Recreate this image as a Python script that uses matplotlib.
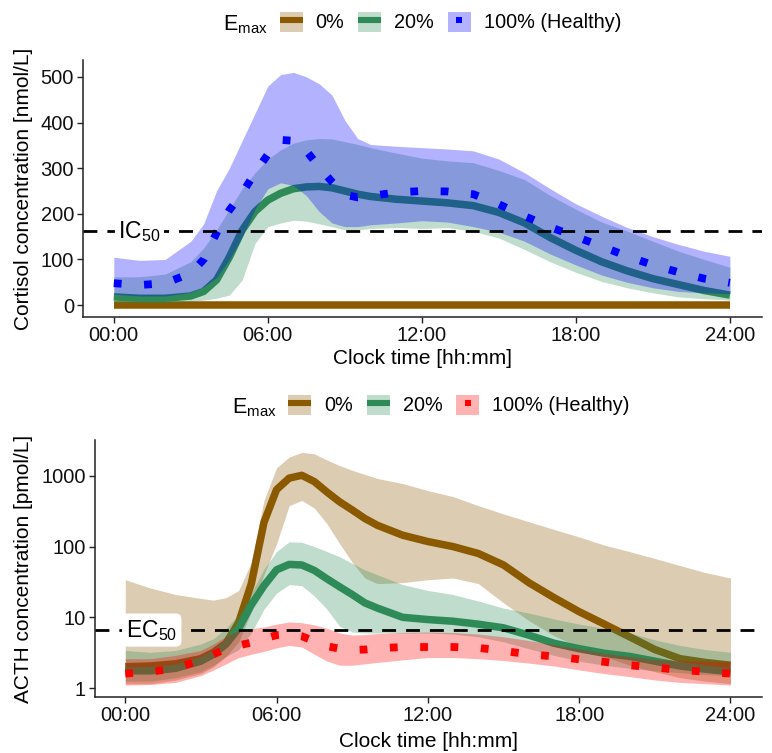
import matplotlib
matplotlib.use("Agg")
import matplotlib.pyplot as plt
from matplotlib.patches import Patch
from matplotlib.lines import Line2D
from matplotlib.legend_handler import HandlerTuple

plt.rcParams['font.family'] = ['Liberation Sans', 'DejaVu Sans']
plt.rcParams['mathtext.fontset'] = 'custom'
plt.rcParams['mathtext.rm'] = 'Liberation Sans'
plt.rcParams['mathtext.it'] = 'Liberation Sans:italic'
plt.rcParams['mathtext.bf'] = 'Liberation Sans:bold'

# ---------------- data ----------------
hours = [0, 1, 2, 3, 3.5, 4, 4.5, 5, 5.5, 6, 6.5, 7, 7.5, 8, 8.5, 9, 9.5, 10,
         11, 12, 13, 14, 15, 16, 17, 18, 19, 20, 21, 22, 23, 24]

xtick_pos = [0, 6, 12, 18, 24]
xtick_labels = ["00:00", "06:00", "12:00", "18:00", "24:00"]
group_labels = ["0%", "20%", "100% (Healthy)"]

# Cortisol [nmol/L]
cort_0_med = [0] * 32
cort_0_lo = [0] * 32
cort_0_hi = [0] * 32

cort_20_med = [18, 15, 15, 20, 30, 55, 105, 164, 205, 230, 245, 255, 259, 260, 257, 250,
               243, 238, 232, 228, 224, 218, 203, 180, 148, 120, 95, 75, 58, 45, 32, 22]
cort_20_lo = [5, 5, 5, 8, 11, 15, 22, 55, 135, 172, 180, 186, 184, 178, 172, 165,
              165, 168, 170, 168, 170, 162, 147, 122, 95, 72, 52, 38, 27, 18, 14, 11]
cort_20_hi = [62, 62, 68, 95, 125, 164, 210, 255, 290, 320, 340, 355, 362, 365, 364, 358,
              352, 345, 333, 322, 316, 312, 295, 275, 240, 210, 182, 162, 140, 118, 100, 83]

cort_100_med = [48, 44, 48, 70, 100, 158, 208, 245, 290, 330, 362, 360, 338, 302, 270, 242,
                236, 239, 247, 250, 249, 243, 221, 195, 171, 150, 129, 107, 88, 72, 58, 49]
cort_100_lo = [24, 20, 20, 28, 40, 60, 100, 150, 210, 255, 268, 262, 240, 205, 180, 172,
               172, 176, 180, 185, 182, 172, 160, 140, 112, 88, 66, 50, 38, 30, 27, 25]
cort_100_hi = [105, 98, 100, 140, 178, 250, 300, 360, 420, 480, 505, 510, 500, 485, 460, 405,
               365, 352, 348, 345, 342, 338, 320, 290, 255, 222, 195, 170, 150, 133, 118, 107]

IC50 = 162

# ACTH [pmol/L]
acth_0_med = [2.0, 2.05, 2.2, 2.6, 3.2, 4.3, 8.5, 30, 220, 640, 930, 1020, 830, 590, 430, 330,
              250, 200, 145, 118, 100, 80, 55, 31, 19, 12, 8.0, 5.3, 3.5, 2.6, 2.3, 2.1]
acth_0_lo = [1.15, 1.15, 1.3, 1.6, 2.0, 2.8, 4.5, 12, 40, 110, 380, 450, 350, 210, 110, 60,
             36, 30, 31, 34, 36, 30, 16, 9, 5.5, 3.8, 2.8, 2.1, 1.7, 1.4, 1.25, 1.15]
acth_0_hi = [34, 26, 21, 18.5, 17.5, 19, 24, 60, 450, 1300, 1850, 2150, 2050, 1680, 1400, 1200,
             1050, 920, 780, 620, 510, 380, 290, 225, 175, 137, 105, 85, 68, 54, 43, 36]

acth_20_med = [1.75, 1.75, 1.9, 2.4, 3.0, 4.2, 7, 15, 28, 47, 56, 55, 46, 35, 27, 21,
               16, 13.5, 10, 9.3, 8.8, 8, 7.1, 5.6, 4.3, 3.6, 3.1, 2.8, 2.4, 2.05, 1.85, 1.7]
acth_20_lo = [1.25, 1.25, 1.4, 1.7, 2.1, 2.8, 3.5, 6, 13, 22, 29, 28, 20, 13, 7.5, 6.2,
              6, 6, 6, 6, 5.8, 5.3, 4.5, 3.6, 2.9, 2.4, 2.1, 1.9, 1.75, 1.65, 1.55, 1.5]
acth_20_hi = [3.4, 3.2, 3.4, 4.2, 5, 7, 11, 22, 48, 85, 117, 115, 100, 85, 72, 58,
              47, 40, 29, 24, 21, 17, 13.5, 11.5, 9.5, 8, 7, 6, 4.8, 4.0, 3.5, 3.2]

acth_100_med = [1.6, 1.7, 1.9, 2.5, 3.0, 3.6, 4.0, 4.4, 5.0, 5.6, 5.8, 5.4, 4.6, 3.9, 3.6, 3.45,
                3.5, 3.65, 3.8, 3.8, 3.8, 3.7, 3.35, 3.0, 2.8, 2.55, 2.35, 2.1, 1.95, 1.8, 1.7, 1.6]
acth_100_lo = [1.1, 1.12, 1.2, 1.5, 1.8, 2.2, 2.7, 3.0, 3.3, 3.7, 4.0, 3.8, 3.0, 2.4, 2.1, 2.1,
               2.2, 2.3, 2.5, 2.7, 2.7, 2.6, 2.45, 2.25, 2.05, 1.8, 1.6, 1.45, 1.3, 1.2, 1.15, 1.1]
acth_100_hi = [2.6, 2.6, 2.9, 3.4, 4.2, 5.4, 6.5, 6.9, 7.3, 8.0, 8.6, 8.4, 7.8, 7.0, 6.0, 5.6,
               5.7, 5.9, 6.1, 6.2, 6.1, 5.8, 5.3, 4.7, 4.1, 3.6, 3.1, 2.8, 2.55, 2.45, 2.4, 2.35]

EC50 = 6.6
acth_ticks = [1, 10, 100, 1000]

# ---------------- style ----------------
BROWN = '#8B5A00'
GREEN = '#2E8B57'
BLUE = '#0000FF'
RED = '#FF0000'
ALPHA = 0.3
LW = 5.4
DOT_LS = (0, (1, 2.9))
AXCOL = '#222222'
TICKFS = 14.5
LABFS = 15
LEGFS = 14.3

fig = plt.figure(figsize=(7.72, 7.53), dpi=100)
W, H = 772, 753
ax1 = fig.add_axes([83 / W, 1 - 317 / H, (762 - 83) / W, (317 - 60) / H])
ax2 = fig.add_axes([95 / W, 1 - 697 / H, (762 - 95) / W, (697 - 440) / H])


def draw_group(ax, med, lo, hi, color, z, dotted=False):
    ax.fill_between(hours, lo, hi, color=color, alpha=ALPHA, linewidth=0, zorder=z)
    if dotted:
        ax.plot(hours, med, color=color, lw=5.6, linestyle=DOT_LS,
                dash_capstyle='butt', zorder=z + 1)
    else:
        ax.plot(hours, med, color=color, lw=LW, solid_capstyle='butt',
                solid_joinstyle='round', zorder=z + 1)


def style_axes(ax, labelpad):
    for s in ['top', 'right']:
        ax.spines[s].set_visible(False)
    for s in ['left', 'bottom']:
        ax.spines[s].set_color(AXCOL)
        ax.spines[s].set_linewidth(1.1)
    ax.tick_params(axis='both', length=4.5, width=1.0, color=AXCOL,
                   labelsize=TICKFS, labelcolor='#111111', pad=2)
    ax.set_xticks(xtick_pos)
    ax.set_xticklabels(xtick_labels)
    ax.set_xlim(-1.2, 25.25)
    ax.set_xlabel("Clock time [hh:mm]", fontsize=LABFS, labelpad=labelpad)


def add_legend(colors, dotted_flags, anchor):
    handles = []
    for c, d in zip(colors, dotted_flags):
        p = Patch(facecolor=c, alpha=ALPHA, edgecolor='none')
        if d:
            l = Line2D([], [], color=c, marker='s', markersize=4.8,
                       markeredgewidth=0, linestyle='none')
        else:
            l = Line2D([], [], color=c, lw=4.4, solid_capstyle='butt')
        handles.append((p, l))
    leg = fig.legend(handles, group_labels, loc='center', bbox_to_anchor=anchor,
                     ncol=3, frameon=False, fontsize=LEGFS, handlelength=1.15,
                     handleheight=1.2, handletextpad=0.65, columnspacing=0.7,
                     borderpad=0, borderaxespad=0,
                     handler_map={tuple: HandlerTuple(ndivide=1)})
    fig.text(0, 0, r'$\mathrm{E}_{\mathrm{max}}$', fontsize=LEGFS + 1.2,
             ha='right', va='center_baseline')
    return leg


# ---------------- top panel: cortisol ----------------
draw_group(ax1, cort_0_med, cort_0_lo, cort_0_hi, BROWN, 1)
draw_group(ax1, cort_20_med, cort_20_lo, cort_20_hi, GREEN, 3)
draw_group(ax1, cort_100_med, cort_100_lo, cort_100_hi, BLUE, 5, dotted=True)
ax1.axhline(IC50, color='black', lw=2.0, linestyle=(0, (5, 3.6)), zorder=8)
ax1.text(1.0, IC50, r'$\mathrm{IC}_{50}$', fontsize=16.5, ha='center', va='center',
         zorder=9, bbox=dict(boxstyle='round,pad=0.15,rounding_size=0.2',
                             fc='white', ec='none'))
style_axes(ax1, 3)
ax1.set_ylim(-26, 537)
ax1.set_yticks([0, 100, 200, 300, 400, 500])
ax1.set_ylabel("Cortisol concentration [nmol/L]", fontsize=LABFS)
ax1.yaxis.set_label_coords((33 - 83) / (762 - 83), 0.5)

# ---------------- bottom panel: ACTH ----------------
draw_group(ax2, acth_0_med, acth_0_lo, acth_0_hi, BROWN, 1)
draw_group(ax2, acth_20_med, acth_20_lo, acth_20_hi, GREEN, 3)
draw_group(ax2, acth_100_med, acth_100_lo, acth_100_hi, RED, 5, dotted=True)
ax2.axhline(EC50, color='black', lw=2.0, linestyle=(0, (5, 3.6)), zorder=8)
ax2.text(1.05, EC50, r'$\mathrm{EC}_{50}$', fontsize=16.5, ha='center', va='center',
         zorder=9, bbox=dict(boxstyle='round,pad=0.18,rounding_size=0.25',
                             fc='white', ec='none'))
style_axes(ax2, 5)
ax2.set_yscale('log')
ax2.set_ylim(10 ** -0.127, 10 ** 3.508)
ax2.set_yticks(acth_ticks)
ax2.set_yticklabels([str(t) for t in acth_ticks])
ax2.yaxis.set_minor_locator(matplotlib.ticker.NullLocator())
ax2.set_ylabel("ACTH concentration [pmol/L]", fontsize=LABFS)
ax2.yaxis.set_label_coords((33 - 95) / (762 - 95), 0.5)

# ---------------- legends ----------------
leg1 = add_legend([BROWN, GREEN, BLUE], [False, False, True],
                  (450.5 / W, 1 - 22 / H))
leg2 = add_legend([BROWN, GREEN, RED], [False, False, True],
                  (459 / W, 1 - 405 / H))

# place E_max titles left of each legend
fig.canvas.draw()
renderer = fig.canvas.get_renderer()
texts = [t for t in fig.texts if 'max' in t.get_text()]
for t, leg in zip(texts, [leg1, leg2]):
    bb = leg.get_window_extent(renderer)
    x = (bb.x0 - 12) / fig.bbox.width
    y = (bb.y0 + bb.y1) / 2 / fig.bbox.height
    t.set_position((x, y))

fig.savefig("out.png", dpi=100)
